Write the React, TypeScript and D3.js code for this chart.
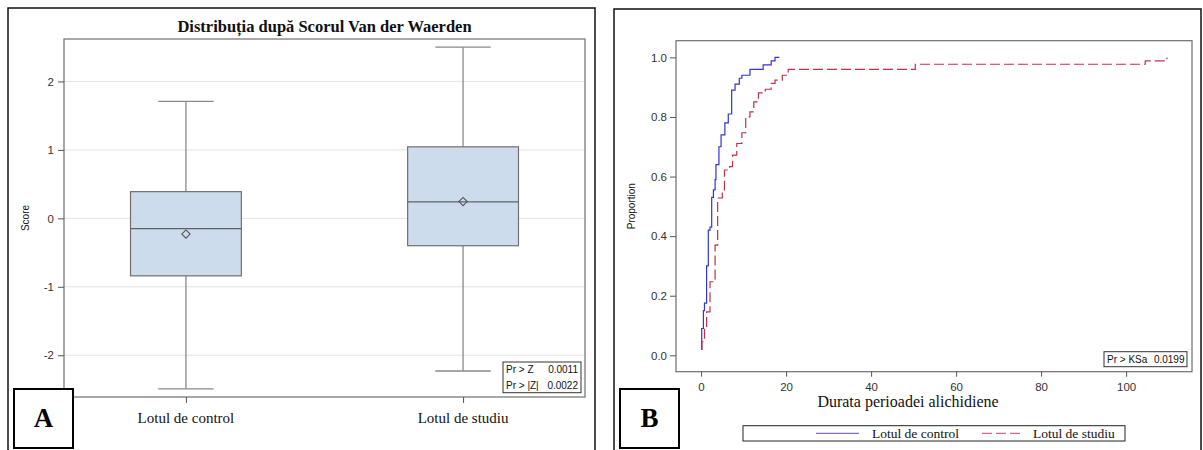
import React, { useRef, useEffect } from "react";
import * as d3 from "d3";

// Panel A: Van der Waerden scores
const groups = ["Lotul de control", "Lotul de studiu"];
const q1 = [-0.84, -0.4];
const medians = [-0.15, 0.24];
const q3 = [0.39, 1.045];
const means = [-0.23, 0.245];
const whiskerLow = [-2.49, -2.23];
const whiskerHigh = [1.71, 2.5];
const scoreTicks = [-2, -1, 0, 1, 2];

// Panel B: empirical distribution functions
const controlX = [0, 0.15, 0.55, 0.8, 1.3, 1.7, 2.1, 2.5, 2.9, 3.3, 3.5, 4.2, 4.7, 5.6, 6.4, 7.2, 8.0, 9.0, 9.6, 11.5, 14.6, 16.5, 17.4, 18.4];
const controlP = [0.02, 0.09, 0.15, 0.175, 0.3, 0.42, 0.43, 0.53, 0.555, 0.59, 0.64, 0.7, 0.74, 0.78, 0.81, 0.89, 0.91, 0.93, 0.94, 0.96, 0.975, 0.988, 1.0, 1.0];
const studyX = [0, 0.2, 0.8, 1.3, 2.1, 3.3, 3.9, 5.0, 5.5, 6.7, 7.4, 8.4, 9.6, 10.5, 11.5, 12.4, 13.5, 15.1, 16.5, 17.4, 19.1, 20.5, 50.4, 104.5, 109.6];
const studyP = [0.02, 0.046, 0.09, 0.146, 0.247, 0.37, 0.528, 0.555, 0.622, 0.633, 0.672, 0.711, 0.747, 0.8, 0.817, 0.851, 0.881, 0.893, 0.913, 0.924, 0.94, 0.96, 0.977, 0.988, 1.0];
const propTicks = [0, 0.2, 0.4, 0.6, 0.8, 1.0];
const durTicks = [0, 20, 40, 60, 80, 100];

const sans = "'Liberation Sans', Arial, sans-serif";
const serif = "'Liberation Serif', 'Times New Roman', serif";

const A = { left: 64, right: 585, top: 39, bottom: 397 };
const B = { left: 676, right: 1192, top: 40.7, bottom: 371.7 };

const blue = "#3434d6";
const red = "#c23048";

const App = () => {
  const yAxisA = useRef<SVGGElement>(null);
  const xAxisA = useRef<SVGGElement>(null);
  const yAxisB = useRef<SVGGElement>(null);
  const xAxisB = useRef<SVGGElement>(null);

  const xA = d3.scalePoint().domain(groups).range([A.left, A.right]).padding(0.44);
  const yA = d3.scaleLinear().domain([-2.61, 2.62]).range([A.bottom, A.top]);
  const step = xA.step();
  const boxW = step * 0.4;
  const capW = step * 0.2;

  const xB = d3.scaleLinear().domain([-5.9, 115.5]).range([B.left, B.right]);
  const yB = d3.scaleLinear().domain([-0.055, 1.056]).range([B.bottom, B.top]);

  const line = d3
    .line<[number, number]>()
    .x((d) => xB(d[0]))
    .y((d) => yB(d[1]))
    .curve(d3.curveStepAfter);
  const controlPts: [number, number][] = controlX.map((x, i) => [x, controlP[i]]);
  const studyPts: [number, number][] = studyX.map((x, i) => [x, studyP[i]]);

  const diamond = d3.symbol((d3 as any).symbolDiamond2 || d3.symbolDiamond, 44)();

  useEffect(() => {
    const style = (g: any) => {
      g.select(".domain").remove();
      g.selectAll(".tick line").attr("stroke", "#555");
      g.selectAll(".tick text")
        .attr("fill", "#333")
        .style("font-family", sans)
        .style("font-size", "11.5px");
    };
    d3.select(yAxisA.current!)
      .call(d3.axisLeft(yA).tickValues(scoreTicks).tickFormat((d: any) => String(d)).tickSize(6).tickPadding(4) as any)
      .call(style);
    d3.select(xAxisA.current!)
      .call(d3.axisBottom(xA).tickSize(6).tickFormat(() => "") as any)
      .call(style);
    d3.select(yAxisB.current!)
      .call(d3.axisLeft(yB).tickValues(propTicks).tickFormat(d3.format(".1f")).tickSize(6).tickPadding(3) as any)
      .call(style);
    d3.select(xAxisB.current!)
      .call(d3.axisBottom(xB).tickValues(durTicks).tickSize(5).tickPadding(6) as any)
      .call(style);
  }, []);

  return (
    <svg
      width={1203}
      height={450}
      style={{ position: "absolute", left: 0, top: 0, background: "#fff" }}
    >
      {/* ---------- Panel A ---------- */}
      <rect x={8} y={8} width={587} height={460} fill="none" stroke="#111" strokeWidth={1.5} />
      <text x={(A.left + A.right) / 2} y={31.5} textAnchor="middle" fontFamily={serif} fontWeight="bold" fontSize={16.5} fill="#111">
        Distribuția după Scorul Van der Waerden
      </text>
      {scoreTicks.map((t) => (
        <line key={t} x1={A.left} x2={A.right} y1={yA(t)} y2={yA(t)} stroke="#e4e4e4" />
      ))}
      {groups.map((g, i) => {
        const cx = xA(g)!;
        return (
          <g key={g}>
            <line x1={cx} x2={cx} y1={yA(q3[i])} y2={yA(whiskerHigh[i])} stroke="#8a8a8a" strokeWidth={1.3} />
            <line x1={cx} x2={cx} y1={yA(q1[i])} y2={yA(whiskerLow[i])} stroke="#8a8a8a" strokeWidth={1.3} />
            <line x1={cx - capW / 2} x2={cx + capW / 2} y1={yA(whiskerHigh[i])} y2={yA(whiskerHigh[i])} stroke="#8a8a8a" strokeWidth={1.3} />
            <line x1={cx - capW / 2} x2={cx + capW / 2} y1={yA(whiskerLow[i])} y2={yA(whiskerLow[i])} stroke="#8a8a8a" strokeWidth={1.3} />
            <rect x={cx - boxW / 2} y={yA(q3[i])} width={boxW} height={yA(q1[i]) - yA(q3[i])} fill="#cddcec" stroke="#707070" strokeWidth={1.2} />
            <line x1={cx - boxW / 2} x2={cx + boxW / 2} y1={yA(medians[i])} y2={yA(medians[i])} stroke="#606060" strokeWidth={1.2} />
            <path d={diamond!} transform={`translate(${cx},${yA(means[i])})`} fill="none" stroke="#555" strokeWidth={1.1} />
          </g>
        );
      })}
      <rect x={A.left} y={A.top} width={A.right - A.left} height={A.bottom - A.top} fill="none" stroke="#6e6e6e" strokeWidth={1.2} />
      <g ref={yAxisA} transform={`translate(${A.left},0)`} />
      <g ref={xAxisA} transform={`translate(0,${A.bottom})`} />
      {groups.map((g) => (
        <text key={g} x={xA(g)} y={423.3} textAnchor="middle" fontFamily={serif} fontSize={15} fill="#111">
          {g}
        </text>
      ))}
      <text transform={`translate(29,${(A.top + A.bottom) / 2}) rotate(-90)`} textAnchor="middle" fontFamily={sans} fontSize={10} fill="#111">
        Score
      </text>
      <rect x={503} y={362} width={78} height={30.7} fill="#fff" stroke="#333" strokeWidth={1} />
      <text x={506} y={372.8} fontFamily={sans} fontSize={10} fill="#111">Pr &gt; Z</text>
      <text x={578} y={372.8} textAnchor="end" fontFamily={sans} fontSize={10} fill="#111">0.0011</text>
      <text x={506} y={388.8} fontFamily={sans} fontSize={10} fill="#111">Pr &gt; |Z|</text>
      <text x={578} y={388.8} textAnchor="end" fontFamily={sans} fontSize={10} fill="#111">0.0022</text>
      <rect x={14} y={389} width={59} height={59} fill="#fff" stroke="#000" strokeWidth={2} />
      <text x={43.5} y={427} textAnchor="middle" fontFamily={serif} fontWeight="bold" fontSize={27} fill="#000">A</text>

      {/* ---------- Panel B ---------- */}
      <rect x={614} y={9} width={587} height={460} fill="none" stroke="#111" strokeWidth={1.5} />
      <path d={line(controlPts)!} fill="none" stroke={blue} strokeWidth={1.2} />
      <path d={line(studyPts)!} fill="none" stroke={red} strokeWidth={1.2} strokeDasharray="10,4" />
      <rect x={B.left} y={B.top} width={B.right - B.left} height={B.bottom - B.top} fill="none" stroke="#6e6e6e" strokeWidth={1.2} />
      <g ref={yAxisB} transform={`translate(${B.left},0)`} />
      <g ref={xAxisB} transform={`translate(0,${B.bottom})`} />
      <text transform={`translate(635,${(B.top + B.bottom) / 2}) rotate(-90)`} textAnchor="middle" fontFamily={sans} fontSize={10} fill="#111">
        Proportion
      </text>
      <text x={908} y={406.5} textAnchor="middle" fontFamily={serif} fontSize={16} fill="#111">
        Durata perioadei alichidiene
      </text>
      <rect x={1104} y={351.7} width={83} height={15} fill="#fff" stroke="#333" strokeWidth={1} />
      <text x={1107} y={363} fontFamily={sans} fontSize={10} fill="#111">Pr &gt; KSa</text>
      <text x={1184.5} y={363} textAnchor="end" fontFamily={sans} fontSize={10} fill="#111">0.0199</text>
      <rect x={743} y={425.7} width={382} height={15.3} fill="#fff" stroke="#222" strokeWidth={1} />
      <line x1={816} x2={859} y1={433.4} y2={433.4} stroke={blue} strokeWidth={1.2} opacity={0.7} />
      <text x={872} y={437.5} fontFamily={serif} fontSize={13.5} fill="#111">Lotul de control</text>
      <line x1={982} x2={1020} y1={433.4} y2={433.4} stroke={red} strokeWidth={1.2} strokeDasharray="10,4" opacity={0.7} />
      <text x={1033} y={437.5} fontFamily={serif} fontSize={13.5} fill="#111">Lotul de studiu</text>
      <rect x={620} y={389} width={59} height={59} fill="#fff" stroke="#000" strokeWidth={2} />
      <text x={649.5} y={427} textAnchor="middle" fontFamily={serif} fontWeight="bold" fontSize={27} fill="#000">B</text>
    </svg>
  );
};

export default App;
